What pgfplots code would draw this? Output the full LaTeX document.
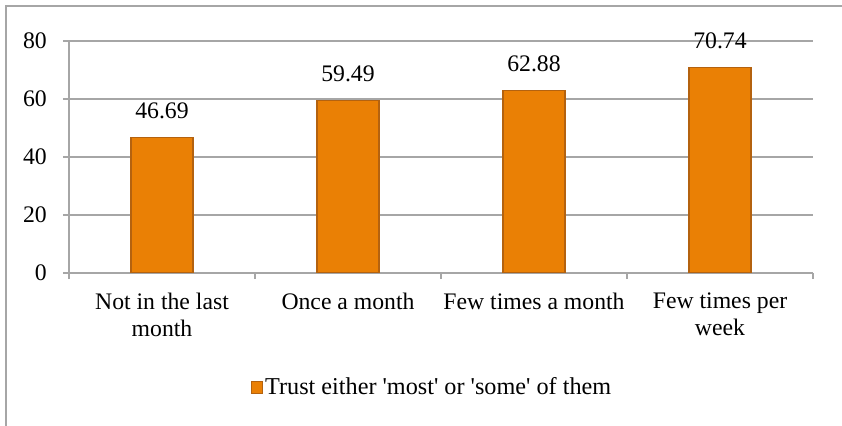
\documentclass[border=0pt]{standalone}
\usepackage{fontspec}
\setmainfont{Liberation Serif}
\usepackage{pgfplots}
\pgfplotsset{compat=1.18}

\definecolor{barfill}{HTML}{EA8005}
\definecolor{barline}{HTML}{B4620F}
\definecolor{gridgray}{HTML}{A6A6A6}

\begin{document}
\fontsize{23.8}{27}\selectfont
\begin{tikzpicture}
\path[use as bounding box] (0,0) rectangle (842bp,426bp);
\draw[gridgray, line width=2bp] (6bp,-2bp) -- (6bp,420bp) -- (850bp,420bp);
\begin{axis}[
    at={(69bp,153bp)}, anchor=south west,
    scale only axis,
    width=744bp, height=232bp,
    ymin=0, ymax=80,
    xmin=-0.5, xmax=3.5,
    ytick={0,20,40,60,80},
    xtick={0,1,2,3},
    xticklabels={Not in the last\\month, Once a month, Few times a month, Few times per\\week},
    minor xtick={-0.5,0.5,1.5,2.5,3.5},
    major x tick style={draw=none},
    minor x tick style={gridgray, line width=1.5bp},
    y tick style={gridgray, line width=1.5bp},
    tick align=outside,
    major tick length=6bp, minor tick length=6bp,
    axis x line*=bottom, axis y line*=left,
    axis line style={gridgray, line width=1.5bp},
    ymajorgrids,
    grid style={gridgray, line width=1.5bp},
    xticklabel style={align=center, inner sep=0pt, yshift=-14bp},
    yticklabel style={inner sep=0pt, xshift=-16bp},
    /pgf/number format/assume math mode=true,
    ybar, bar width=62bp,
    nodes near coords,
    nodes near coords style={inner sep=0pt, yshift=18bp, /pgf/number format/.cd, fixed, fixed zerofill, precision=2},
    legend style={at={(0.488,-0.495)}, anchor=center, draw=none, fill=none, inner sep=0pt,
        legend cell align=left, font=\fontsize{24.3}{27}\selectfont},
    legend image code/.code={\draw[#1, line width=1.2bp] (0bp,-6bp) rectangle (11bp,6bp);},
]
\addplot[fill=barfill, draw=barline, line width=1.2bp] coordinates {
    (0,46.69)
    (1,59.49)
    (2,62.88)
    (3,70.74)
};
\addlegendentry{Trust either \textquotesingle most\textquotesingle{} or \textquotesingle some\textquotesingle{} of them}
\end{axis}
\end{tikzpicture}
\end{document}
